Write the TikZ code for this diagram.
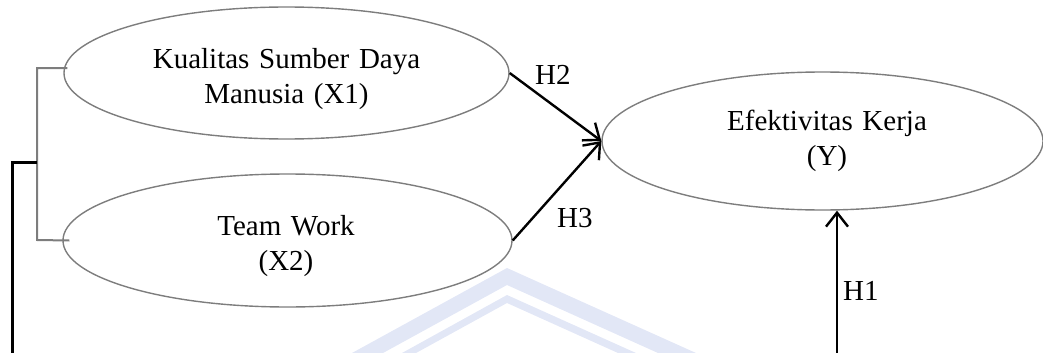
\documentclass[tikz,border=0pt]{standalone}
\usepackage{fontspec}
\setmainfont{Liberation Serif}
\usetikzlibrary{shapes.geometric,arrows.meta,calc}
\definecolor{egray}{RGB}{125,125,125}
\definecolor{wm}{RGB}{226,231,246}
\begin{document}
\begin{tikzpicture}[x=1pt,y=-1pt,
  latent/.style={ellipse,draw=egray,line width=1.4pt,inner sep=0pt},
  txt/.style={font=\fontsize{29}{35}\selectfont,inner sep=0pt,text width=340pt,align=center,anchor=base},
  hlab/.style={font=\fontsize{29}{35}\selectfont,inner sep=0pt,anchor=base west},
  hyp/.style={line width=2.4pt,-{Straight Barb[length=14pt,width=22pt,line width=2.4pt]}},
  bracket/.style={egray,line width=2pt},
  link/.style={line width=3pt}]
\useasboundingbox (0,0) rectangle (1043,353);
% faint watermark
\fill[wm] (352,353) -- (507,268) -- (696,353) -- (658,353) -- (507,285) -- (383,353) -- cycle;
\fill[wm] (402,353) -- (507,295) -- (636,353) -- (618,353) -- (507,303) -- (416,353) -- cycle;
% latent variables
\node[latent,minimum width=445pt,minimum height=132pt] (x1) at (286.5,73) {};
\node[latent,minimum width=449pt,minimum height=133pt] (x2) at (287.5,240.5) {};
\node[latent,minimum width=441pt,minimum height=138pt] (y) at (822.5,141) {};
\node[txt] (t1) at (286.5,68) {Kualitas Sumber Daya\\Manusia (X1)};
\node[txt] (t2) at (286,235) {Team Work\\(X2)};
\node[txt] (t3) at (827,130) {Efektivitas Kerja\\(Y)};
% hypotheses
\draw[hyp] (x1.east) -- (y.west);
\draw[hyp] (x2.east) -- (y.west);
\coordinate (h1s) at (837,353);
\draw[hyp] (h1s) -- (h1s |- y.south);
\node[hlab] (h2) at (535,84) {H2};
\node[hlab] (h3) at (557,227) {H3};
\node[hlab] (h1) at (843,300) {H1};
% bracket
\coordinate (bt) at (37,68);
\coordinate (bb) at (37,240);
\draw[bracket] ([xshift=4pt]x1.west |- bt) -- (bt) -- (bb) -- ([xshift=7pt]x2.west);
\coordinate (bm) at (37,162);
\coordinate (bl) at (12,353);
\draw[link] (bl) |- (bm);
\end{tikzpicture}
\end{document}
